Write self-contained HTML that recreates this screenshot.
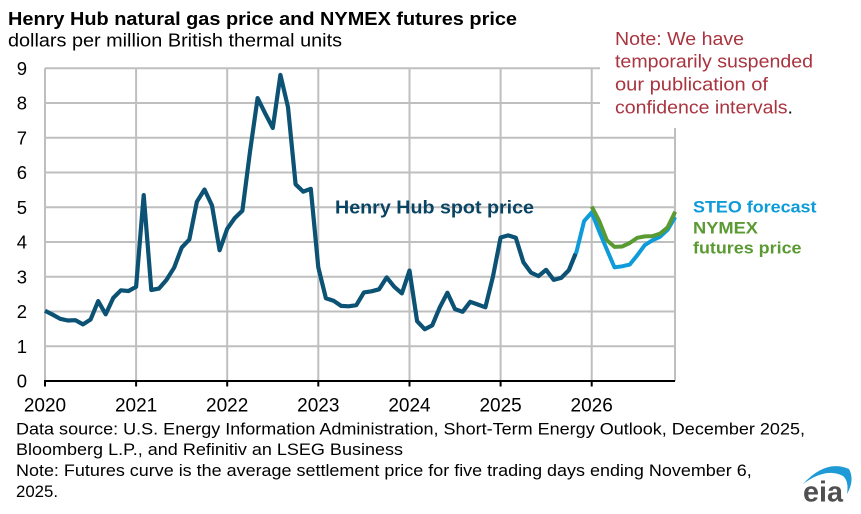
<!DOCTYPE html>
<html>
<head>
<meta charset="utf-8">
<style>
  html,body{margin:0;padding:0;background:#fff;}
  svg{display:block;}
  text{font-family:"Liberation Sans", Arial, sans-serif;}
</style>
</head>
<body>
<svg width="861" height="514" viewBox="0 0 861 514" xmlns="http://www.w3.org/2000/svg">
  <rect x="0" y="0" width="861" height="514" fill="#ffffff"/>

  <!-- Title -->
  <text x="8" y="25" font-size="18.5" font-weight="bold" fill="#000" textLength="509" lengthAdjust="spacingAndGlyphs">Henry Hub natural gas price and NYMEX futures price</text>
  <text x="8" y="46.7" font-size="18.5" fill="#000" textLength="334" lengthAdjust="spacingAndGlyphs">dollars per million British thermal units</text>

  <!-- Gridlines horizontal -->
  <g stroke="#bfbfbf" stroke-width="2">
    <line x1="45" y1="68.25" x2="675" y2="68.25"/>
    <line x1="45" y1="103" x2="675" y2="103"/>
    <line x1="45" y1="137.75" x2="675" y2="137.75"/>
    <line x1="45" y1="172.5" x2="675" y2="172.5"/>
    <line x1="45" y1="207.25" x2="675" y2="207.25"/>
    <line x1="45" y1="242" x2="675" y2="242"/>
    <line x1="45" y1="276.75" x2="675" y2="276.75"/>
    <line x1="45" y1="311.5" x2="675" y2="311.5"/>
    <line x1="45" y1="346.25" x2="675" y2="346.25"/>
    <!-- vertical -->
    <line x1="45" y1="68.25" x2="45" y2="381"/>
    <line x1="136.1" y1="68.25" x2="136.1" y2="381"/>
    <line x1="227.2" y1="68.25" x2="227.2" y2="381"/>
    <line x1="318.3" y1="68.25" x2="318.3" y2="381"/>
    <line x1="409.5" y1="68.25" x2="409.5" y2="381"/>
    <line x1="500.6" y1="68.25" x2="500.6" y2="381"/>
    <line x1="591.7" y1="68.25" x2="591.7" y2="381"/>
    <line x1="675" y1="68.25" x2="675" y2="381"/>
  </g>

  <!-- White note box covering gridlines -->
  <rect x="600" y="20" width="261" height="108" fill="#ffffff"/>

  <!-- X axis -->
  <g stroke="#000" stroke-width="2">
    <line x1="44" y1="381" x2="675" y2="381"/>
    <line x1="45" y1="381" x2="45" y2="386.5"/>
    <line x1="136.1" y1="381" x2="136.1" y2="386.5"/>
    <line x1="227.2" y1="381" x2="227.2" y2="386.5"/>
    <line x1="318.3" y1="381" x2="318.3" y2="386.5"/>
    <line x1="409.5" y1="381" x2="409.5" y2="386.5"/>
    <line x1="500.6" y1="381" x2="500.6" y2="386.5"/>
    <line x1="591.7" y1="381" x2="591.7" y2="386.5"/>
  </g>

  <!-- Y labels -->
  <g font-size="18.5" fill="#000" text-anchor="end">
    <text x="27" y="74.8">9</text>
    <text x="27" y="109.5">8</text>
    <text x="27" y="144.3">7</text>
    <text x="27" y="179">6</text>
    <text x="27" y="213.8">5</text>
    <text x="27" y="248.5">4</text>
    <text x="27" y="283.3">3</text>
    <text x="27" y="318">2</text>
    <text x="27" y="352.8">1</text>
    <text x="27" y="387.5">0</text>
  </g>

  <!-- X labels -->
  <g font-size="19" fill="#000" text-anchor="middle">
    <text x="45" y="411.7">2020</text>
    <text x="136.1" y="411.7">2021</text>
    <text x="227.2" y="411.7">2022</text>
    <text x="318.3" y="411.7">2023</text>
    <text x="409.5" y="411.7">2024</text>
    <text x="500.6" y="411.7">2025</text>
    <text x="591.7" y="411.7">2026</text>
  </g>

  <!-- STEO forecast (light blue) -->
  <polyline fill="none" stroke="#0e9bd9" stroke-width="4" stroke-linejoin="round" stroke-linecap="butt"
    points="568.9,270.1 576.5,251.7 584.1,221.1 591.7,212.5 599.3,231.6 606.9,249.6 614.5,267.4 622.1,266.3 629.7,264.6 637.3,255.2 644.8,245.1 652.4,240.3 660.0,236.8 667.6,229.8 675.2,217.0"/>

  <!-- NYMEX futures (green) -->
  <polyline fill="none" stroke="#5a9a32" stroke-width="4" stroke-linejoin="round" stroke-linecap="butt"
    points="591.7,206.6 599.3,221.1 606.9,240.3 614.5,246.9 622.1,246.5 629.7,243.0 637.3,237.8 644.8,236.4 652.4,236.1 660.0,233.7 667.6,227.4 675.2,211.8"/>

  <!-- Henry Hub spot (dark blue) -->
  <polyline fill="none" stroke="#0b5274" stroke-width="4.2" stroke-linejoin="round" stroke-linecap="butt"
    points="45.0,310.8 52.6,314.6 60.2,318.8 67.8,320.5 75.4,320.2 83.0,324.4 90.6,319.5 98.2,301.1 105.7,314.3 113.3,297.9 120.9,290.3 128.5,291.0 136.1,286.8 143.7,195.1 151.3,290.0 158.9,288.6 166.5,279.9 174.1,267.7 181.7,247.6 189.3,239.6 196.9,201.7 204.5,189.5 212.0,205.5 219.6,250.3 227.2,228.8 234.8,218.0 242.4,210.7 250.0,151.6 257.6,98.1 265.2,113.4 272.8,128.0 280.4,74.9 288.0,107.2 295.6,184.3 303.2,191.6 310.8,188.8 318.3,267.4 325.9,298.3 333.5,300.7 341.1,305.9 348.7,306.3 356.3,305.2 363.9,292.4 371.5,291.3 379.1,289.3 386.7,277.4 394.3,286.8 401.9,293.4 409.5,270.5 417.1,321.2 424.7,329.2 432.2,325.4 439.8,307.3 447.4,292.7 455.0,309.1 462.6,311.8 470.2,301.8 477.8,304.5 485.4,307.3 493.0,276.4 500.6,237.5 508.2,235.4 515.8,237.8 523.4,262.2 531.0,272.6 538.5,276.1 546.1,269.8 553.7,279.9 561.3,277.8 568.9,270.1 575.5,253.8"/>

  <!-- Series label -->
  <text x="335" y="213.3" font-size="18" font-weight="bold" fill="#0a4463" textLength="199" lengthAdjust="spacingAndGlyphs">Henry Hub spot price</text>

  <!-- Legend -->
  <text x="693" y="212.5" font-size="17" font-weight="bold" fill="#0e9bd9" textLength="123.5" lengthAdjust="spacingAndGlyphs">STEO forecast</text>
  <text x="693" y="233.5" font-size="17" font-weight="bold" fill="#5a9a32" textLength="65" lengthAdjust="spacingAndGlyphs">NYMEX</text>
  <text x="693" y="253.5" font-size="17" font-weight="bold" fill="#5a9a32" textLength="108.5" lengthAdjust="spacingAndGlyphs">futures price</text>

  <!-- Note (red) -->
  <g font-size="18.5" fill="#a9343f">
    <text x="615" y="45" textLength="129" lengthAdjust="spacingAndGlyphs">Note: We have</text>
    <text x="615" y="67.5" textLength="198" lengthAdjust="spacingAndGlyphs">temporarily suspended</text>
    <text x="615" y="90.5" textLength="153" lengthAdjust="spacingAndGlyphs">our publication of</text>
    <text x="615" y="113.5" textLength="178" lengthAdjust="spacingAndGlyphs">confidence intervals<tspan fill="#000">.</tspan></text>
  </g>

  <!-- Footer -->
  <g font-size="16.5" fill="#000">
    <text x="16" y="434.3" textLength="789" lengthAdjust="spacingAndGlyphs">Data source: U.S. Energy Information Administration, Short-Term Energy Outlook, December 2025,</text>
    <text x="16" y="455" textLength="387" lengthAdjust="spacingAndGlyphs">Bloomberg L.P., and Refinitiv an LSEG Business</text>
    <text x="16" y="475.8" textLength="735.7" lengthAdjust="spacingAndGlyphs">Note: Futures curve is the average settlement price for five trading days ending November 6,</text>
    <text x="16" y="497" textLength="42" lengthAdjust="spacingAndGlyphs">2025.</text>
  </g>

  <!-- EIA logo -->
  <path d="M803,484 Q826,459 849,469 Q855,480 847,494 Q849,481 843,476 Q826,467 803,484 Z" fill="#1e9ad6"/>
  <text x="803" y="501.7" font-size="29" font-weight="bold" fill="#4f4f51" textLength="40" lengthAdjust="spacingAndGlyphs">eia</text>
</svg>
</body>
</html>
